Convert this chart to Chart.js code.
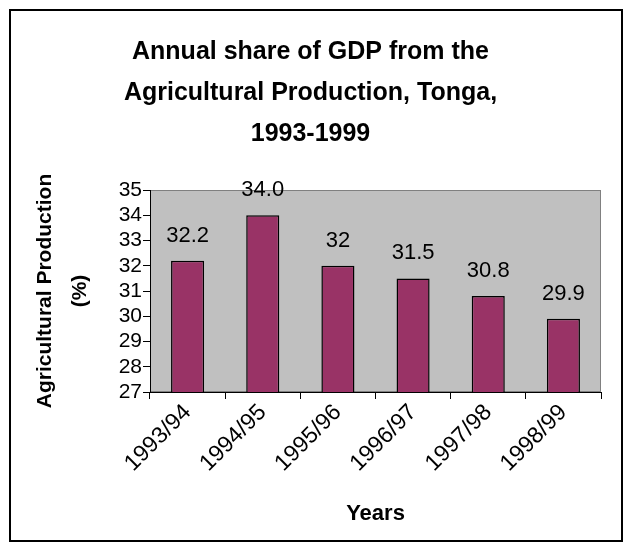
<!DOCTYPE html>
<html>
<head>
<meta charset="utf-8">
<script src="https://cdn.jsdelivr.net/npm/chart.js@4.4.1/dist/chart.umd.min.js"></script>
<style>
  body { margin: 0; background: #fff; }
  #chart { display: block; }
</style>
</head>
<body>
<canvas id="chart" width="631" height="550"></canvas>
<script>
// data
const years = ['1993/94', '1994/95', '1995/96', '1996/97', '1997/98', '1998/99'];
const shareValues = [32.2, 34.0, 32, 31.5, 30.8, 29.9];
const valueLabels = ['32.2', '34.0', '32', '31.5', '30.8', '29.9'];
const titleLines = ['Annual share of GDP from the', 'Agricultural Production, Tonga,', '1993-1999'];
const yTitleLines = ['Agricultural Production', '(%)'];
const yMin = 27, yMax = 35, yStep = 1;

const FONT = 'Liberation Sans, Arial, sans-serif';

// grey plot background + frame round the whole picture
const plotBackground = {
    id: 'plotBackground',
    beforeDraw(chart) {
        const {ctx, chartArea: a} = chart;
        ctx.save();
        ctx.fillStyle = '#c0c0c0';
        ctx.fillRect(a.left, a.top, a.right - a.left, a.bottom - a.top);
        ctx.strokeStyle = '#808080';
        ctx.lineWidth = 1;
        ctx.strokeRect(a.left + 0.5, a.top + 0.5, a.right - a.left - 1, a.bottom - a.top - 1);
        ctx.restore();
    },
    afterDraw(chart) {
        const ctx = chart.ctx;
        ctx.save();
        ctx.strokeStyle = '#000';
        ctx.lineWidth = 2;
        ctx.strokeRect(10, 10, 612, 531);
        ctx.restore();
    }
};

// value labels sitting above each bar
const barValues = {
    id: 'barValues',
    afterDatasetsDraw(chart) {
        const ctx = chart.ctx;
        const meta = chart.getDatasetMeta(0);
        ctx.save();
        ctx.font = '22px ' + FONT;
        ctx.fillStyle = '#000';
        ctx.textAlign = 'center';
        ctx.textBaseline = 'middle';
        meta.data.forEach((bar, i) => {
            ctx.fillText(valueLabels[i], bar.x, bar.y - 25);
        });
        ctx.restore();
    }
};

new Chart(document.getElementById('chart'), {
    type: 'bar',
    data: {
        labels: years,
        datasets: [{
            data: shareValues,
            backgroundColor: '#993366',
            borderColor: '#000',
            borderWidth: 1.5,
            barPercentage: 0.44,
            categoryPercentage: 1
        }]
    },
    options: {
        responsive: false,
        animation: false,
        devicePixelRatio: 1,
        layout: { padding: { left: 20, top: 13, right: 30, bottom: 23 } },
        plugins: {
            legend: { display: false },
            tooltip: { enabled: false },
            title: {
                display: true,
                text: titleLines,
                color: '#000',
                font: { family: FONT, size: 25, weight: 'bold', lineHeight: '41px' },
                padding: { top: 19, bottom: 35 }
            }
        },
        scales: {
            x: {
                afterFit(scale) { scale.height = 135; },
                grid: { drawOnChartArea: false, color: '#000', tickLength: 7, offset: true },
                border: { color: '#000', width: 1 },
                ticks: {
                    color: '#000',
                    font: { family: FONT, size: 23 },
                    minRotation: 45,
                    maxRotation: 45,
                    padding: 0
                },
                title: {
                    display: true,
                    text: 'Years',
                    color: '#000',
                    font: { family: FONT, size: 22, weight: 'bold' },
                    padding: 0
                }
            },
            y: {
                min: yMin,
                max: yMax,
                afterFit(scale) { scale.width = 130; },
                grid: { drawOnChartArea: false, color: '#000', tickLength: 7 },
                border: { color: '#000', width: 1 },
                ticks: {
                    stepSize: yStep,
                    color: '#000',
                    font: { family: FONT, size: 21, lineHeight: 1 },
                    padding: 1
                },
                title: {
                    display: true,
                    text: yTitleLines,
                    color: '#000',
                    font: { family: FONT, size: 21, weight: 'bold', lineHeight: '35px' },
                    padding: { top: 8, bottom: 0 }
                }
            }
        }
    },
    plugins: [plotBackground, barValues]
});
</script>
</body>
</html>
